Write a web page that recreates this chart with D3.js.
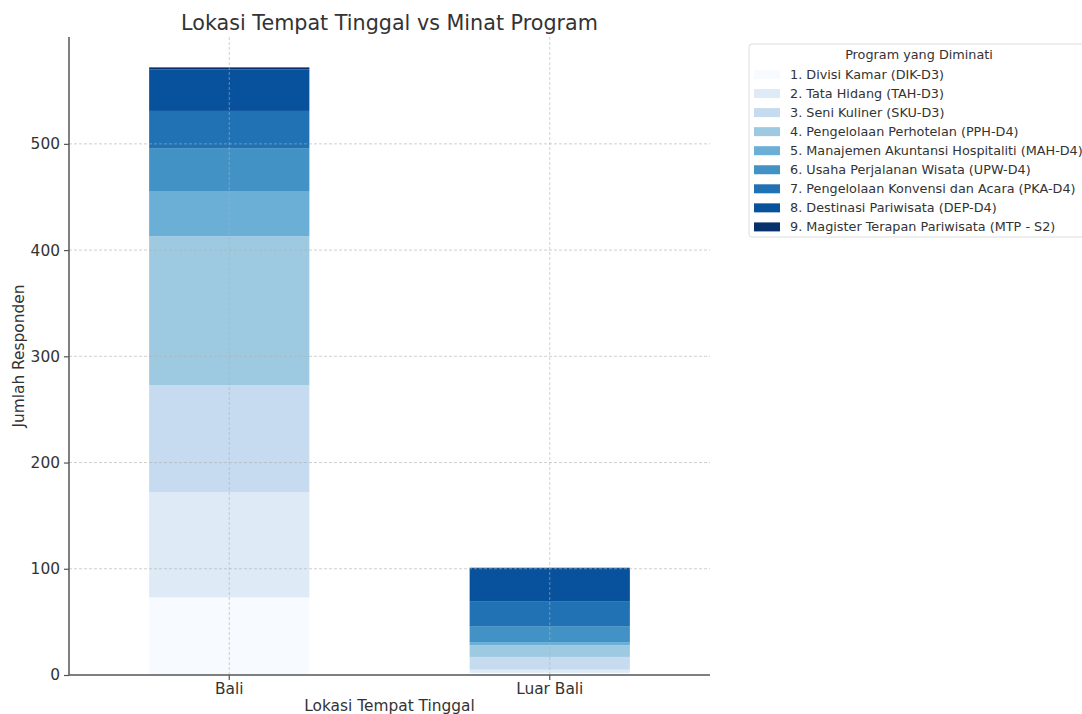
<!DOCTYPE html>
<html>
<head>
<meta charset="utf-8">
<script src="https://cdn.jsdelivr.net/npm/d3@7"></script>
<style>
  body { margin: 0; background: #fff; }
  text { font-family: "DejaVu Sans", sans-serif; fill: #333; }
</style>
</head>
<body>
<script>
// data
var locations = ['Bali', 'Luar Bali']
var programs = [
  '1. Divisi Kamar (DIK-D3)',
  '2. Tata Hidang (TAH-D3)',
  '3. Seni Kuliner (SKU-D3)',
  '4. Pengelolaan Perhotelan (PPH-D4)',
  '5. Manajemen Akuntansi Hospitaliti (MAH-D4)',
  '6. Usaha Perjalanan Wisata (UPW-D4)',
  '7. Pengelolaan Konvensi dan Acara (PKA-D4)',
  '8. Destinasi Pariwisata (DEP-D4)',
  '9. Magister Terapan Pariwisata (MTP - S2)'
]
var baliValues = [73, 99, 101, 140, 42, 41, 35, 39, 2]
var luarBaliValues = [2, 3, 12, 11, 3, 15, 23, 32, 0]
var yTicks = [0, 100, 200, 300, 400, 500]

var rows = locations.map(function(loc, i){
  var vals = i == 0 ? baliValues : luarBaliValues
  var r = {loc: loc}
  programs.forEach(function(p, j){ r[p] = vals[j] })
  return r
})

var W = 1082, H = 714
var m = {left: 69, right: 372, top: 37, bottom: 39}
var width = W - m.left - m.right, height = H - m.top - m.bottom
var fs = 15.4

var svg = d3.select('body').append('svg').attr('width', W).attr('height', H)
var g = svg.append('g').attr('transform', 'translate(' + m.left + ',' + m.top + ')')

var series = d3.stack().keys(programs)(rows)
var maxTotal = d3.max(series[series.length - 1], function(d){ return d[1] })

var x = d3.scaleBand().domain(locations).range([0, width]).paddingInner(0.5).paddingOuter(0.25)
var y = d3.scaleLinear().domain([0, maxTotal * 1.05]).range([height, 0])
var color = d3.scaleOrdinal().domain(programs).range(d3.schemeBlues[9])

g.selectAll('g.layer').data(series).join('g')
  .attr('class', 'layer')
  .attr('fill', function(d){ return color(d.key) })
  .selectAll('rect').data(function(d){ return d }).join('rect')
  .attr('x', function(d){ return x(d.data.loc) })
  .attr('width', x.bandwidth())
  .attr('y', function(d){ return y(d[1]) })
  .attr('height', function(d){ return y(d[0]) - y(d[1]) })

// grid
g.append('g').selectAll('line').data(yTicks.slice(1)).join('line')
  .attr('x1', 0).attr('x2', width)
  .attr('y1', function(d){ return y(d) }).attr('y2', function(d){ return y(d) })
  .attr('stroke', '#b0b0b0').attr('stroke-opacity', 0.6).attr('stroke-dasharray', '3,2')
g.append('g').selectAll('line').data(locations).join('line')
  .attr('x1', function(d){ return x(d) + x.bandwidth() / 2 })
  .attr('x2', function(d){ return x(d) + x.bandwidth() / 2 })
  .attr('y1', 0).attr('y2', height)
  .attr('stroke', '#b0b0b0').attr('stroke-opacity', 0.6).attr('stroke-dasharray', '3,2')

// axes
var yAxis = g.append('g').call(d3.axisLeft(y).tickValues(yTicks).tickSize(5).tickPadding(4))
var xAxis = g.append('g').attr('transform', 'translate(0,' + height + ')')
  .call(d3.axisBottom(x).tickSize(5).tickPadding(3))
;[xAxis, yAxis].forEach(function(a){
  a.select('.domain').attr('stroke', '#555').attr('stroke-width', 1.5)
  a.selectAll('.tick line').attr('stroke', '#555').attr('stroke-width', 1.2)
  a.selectAll('.tick text').attr('font-size', fs).attr('fill', '#333')
    .style('font-family', '"DejaVu Sans", sans-serif')
})
xAxis.select('.domain').attr('d', 'M0,0H' + width)
yAxis.select('.domain').attr('d', 'M0,' + height + 'V0')

// labels
svg.append('text').attr('x', m.left + width / 2).attr('y', 30)
  .attr('text-anchor', 'middle').attr('font-size', 20.7)
  .text('Lokasi Tempat Tinggal vs Minat Program')
svg.append('text').attr('x', m.left + width / 2).attr('y', 711)
  .attr('text-anchor', 'middle').attr('font-size', fs)
  .text('Lokasi Tempat Tinggal')
svg.append('text')
  .attr('transform', 'translate(24,' + (m.top + height / 2) + ') rotate(-90)')
  .attr('text-anchor', 'middle').attr('font-size', fs)
  .text('Jumlah Responden')

// legend
var lg = svg.append('g').attr('transform', 'translate(749,44)')
lg.append('rect').attr('width', 380).attr('height', 193).attr('rx', 3)
  .attr('fill', '#fff').attr('stroke', '#ddd')
lg.append('text').attr('x', 170).attr('y', 15).attr('text-anchor', 'middle')
  .attr('font-size', 12.8).text('Program yang Diminati')
var item = lg.selectAll('g.item').data(programs).join('g')
  .attr('class', 'item')
  .attr('transform', function(d, i){ return 'translate(5,' + (30 + i * 19.05) + ')' })
item.append('rect').attr('y', -4).attr('width', 26).attr('height', 9)
  .attr('fill', function(d){ return color(d) })
item.append('text').attr('x', 36).attr('y', 4.5).attr('font-size', 12.8).text(function(d){ return d })
</script>
</body>
</html>
